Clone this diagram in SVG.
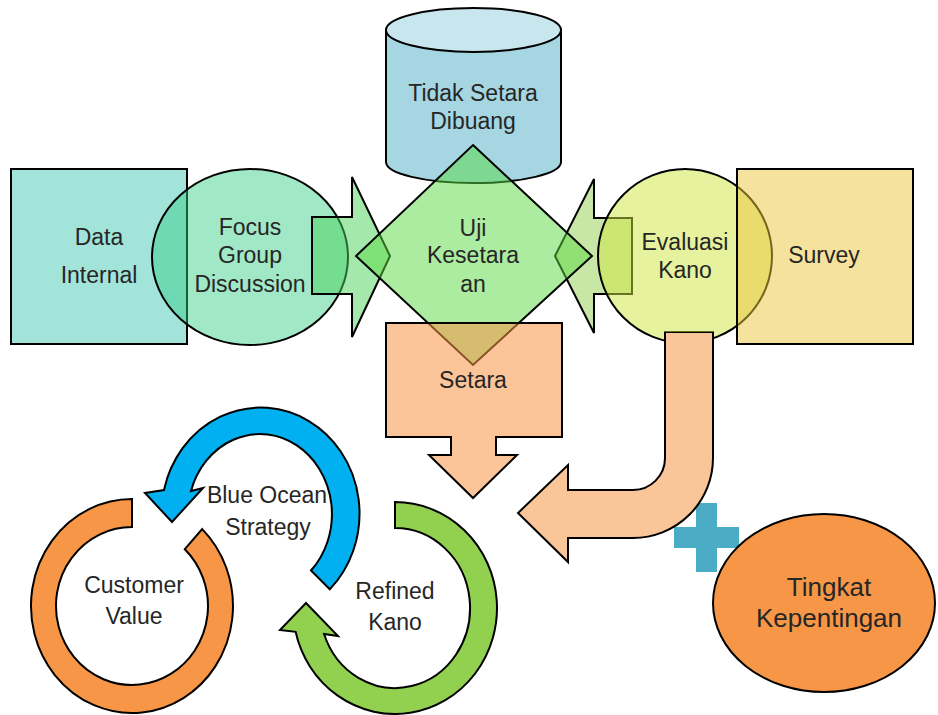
<svg xmlns="http://www.w3.org/2000/svg" width="938" height="715" viewBox="0 0 938 715">
<style>
.s{stroke:#000;stroke-width:2;stroke-linejoin:miter}
.t{font-family:"Liberation Sans",Arial,sans-serif;font-size:23px;fill:#262626;text-anchor:middle}
.big{font-size:26px}
</style>
<defs>
<clipPath id="behindBend">
<path clip-rule="evenodd" d="M0 0 H938 V715 H0 Z M664 332 H714 V370 H664 Z"/>
</clipPath>
</defs>
<rect width="938" height="715" fill="#fff"/>
<g id="data-internal">
<rect class="s" x="11" y="169" width="176" height="175" fill="#a3e4da"/>
<text class="t" x="99" y="245">Data</text>
<text class="t" x="99" y="283">Internal</text>
</g>
<g id="focus-group-discussion">
<ellipse class="s" cx="250" cy="257" rx="98" ry="88" fill="#2fcc83" fill-opacity="0.45"/>
<text class="t" x="250" y="235">Focus</text>
<text class="t" x="250" y="263">Group</text>
<text class="t" x="250" y="292">Discussion</text>
</g>
<g id="tidak-setara-dibuang">
<path class="s" d="M386 30 L386 162 A87.5 21 0 0 0 561 162 L561 30 Z" fill="#a5d6e2"/>
<ellipse class="s" cx="473.5" cy="30" rx="87.5" ry="22" fill="#c8e6ee"/>
<text class="t" x="473" y="101">Tidak Setara</text>
<text class="t" x="473" y="129">Dibuang</text>
</g>
<g id="plus">
<path d="M696 503 L717 503 L717 527 L739 527 L739 548 L717 548 L717 572 L696 572 L696 548 L674 548 L674 527 L696 527 Z" fill="#4bacc6"/>
</g>
<g id="connectors">
<path class="s" d="M312 217 L352 217 L352 177 L390 256 L352 337 L352 294 L312 294 Z" fill="#49d159" fill-opacity="0.5"/>
<path class="s" d="M632 218 L594 218 L594 179 L555 256 L594 333 L594 294 L632 294 Z" fill="#92d050" fill-opacity="0.5"/>
<path class="s" d="M665 332 L713 332 L713 458 A80 80 0 0 1 633 538 L568 538 L568 562 L518 513 L568 465 L568 490 L633 490 A32 32 0 0 0 665 458 Z" fill="#f9c599"/>
</g>
<g id="uji-kesetaraan">
<path class="s" d="M473 145 L592 256 L473 365 L356 256 Z" fill="#59d941" fill-opacity="0.5"/>
<text class="t" x="473" y="236">Uji</text>
<text class="t" x="473" y="263">Kesetara</text>
<text class="t" x="473" y="292">an</text>
</g>
<g id="evaluasi-kano">
<ellipse class="s" cx="685" cy="256" rx="87" ry="87" fill="#cde53d" fill-opacity="0.5" clip-path="url(#behindBend)"/>
<text class="t" x="685" y="250">Evaluasi</text>
<text class="t" x="685" y="278">Kano</text>
</g>
<g id="survey">
<rect class="s" x="737" y="169" width="176" height="175" fill="#ebc539" fill-opacity="0.5"/>
<text class="t" x="824" y="263">Survey</text>
</g>
<g id="setara">
<path class="s" d="M386 323 L562 323 L562 437 L496 437 L496 455 L517 455 L473 498 L429 455 L451 455 L451 437 L386 437 Z" fill="#f79646" fill-opacity="0.55"/>
<text class="t" x="473" y="388">Setara</text>
</g>
<g id="tingkat-kepentingan">
<ellipse class="s" cx="824" cy="603" rx="111" ry="89" fill="#f79646"/>
<text class="t big" x="829" y="596">Tingkat</text>
<text class="t big" x="829" y="627">Kepentingan</text>
</g>
<g id="customer-value">
<path class="s" d="M132 499 A101 107 0 1 0 202.2 529.1 L184.8 549.2 A76 79 0 1 1 132 527 Z" fill="#f79646"/>
<text class="t" x="134" y="593">Customer</text>
<text class="t" x="134" y="624">Value</text>
</g>
<g id="blue-ocean-strategy">
<path class="s" d="M329.8 589.3 A99 106 0 1 0 164 490 L145 493 L172 522 L203 488 L191 491 A72 80 0 1 1 311 570.5 Z" fill="#00b0f0"/>
<text class="t" x="267" y="503">Blue Ocean</text>
<text class="t" x="268" y="535">Strategy</text>
</g>
<g id="refined-kano">
<path class="s" d="M395 502 A102 106 0 1 1 295.6 631.8 L280 630 L306 603 L338 636 L324.1 634 A75 80 0 1 0 395 528 Z" fill="#92d050"/>
<text class="t" x="395" y="599">Refined</text>
<text class="t" x="395" y="630">Kano</text>
</g>
</svg>
